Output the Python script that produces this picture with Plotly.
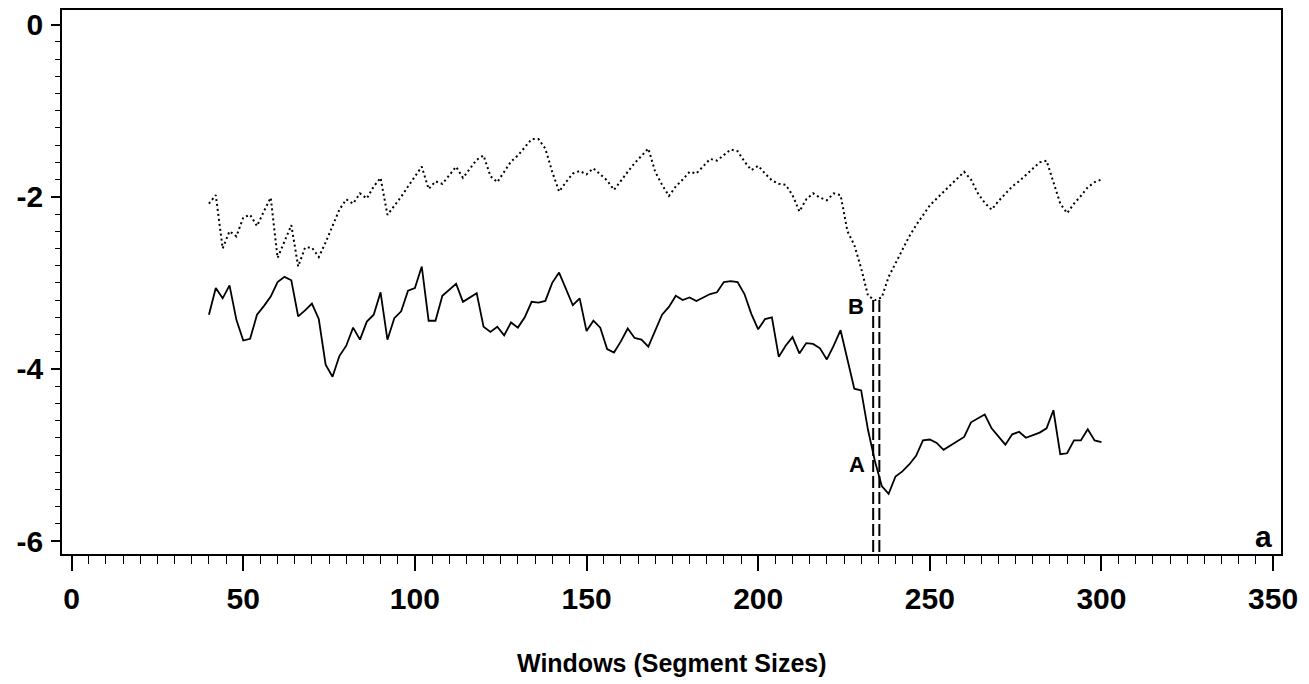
import plotly.graph_objects as go

# window sizes (segment sizes)
windows = list(range(40, 301, 2))

# solid series (A)
series_a = [
    -3.37, -3.06, -3.18, -3.03, -3.43, -3.67, -3.65, -3.37, -3.27, -3.16,   # 40-58
    -2.99, -2.93, -2.97, -3.39, -3.32, -3.24, -3.42, -3.95, -4.09, -3.85,   # 60-78
    -3.73, -3.52, -3.66, -3.45, -3.37, -3.11, -3.66, -3.41, -3.33, -3.09,   # 80-98
    -3.06, -2.81, -3.44, -3.44, -3.15, -3.08, -3.01, -3.22, -3.17, -3.12,   # 100-118
    -3.51, -3.57, -3.51, -3.61, -3.46, -3.52, -3.40, -3.22, -3.23, -3.21,   # 120-138
    -3.00, -2.88, -3.07, -3.26, -3.18, -3.56, -3.44, -3.52, -3.77, -3.81,   # 140-158
    -3.68, -3.53, -3.64, -3.66, -3.74, -3.56, -3.37, -3.28, -3.15, -3.20,   # 160-178
    -3.17, -3.21, -3.17, -3.13, -3.11, -2.99, -2.98, -2.99, -3.13, -3.36,   # 180-198
    -3.54, -3.42, -3.40, -3.86, -3.73, -3.63, -3.82, -3.70, -3.71, -3.76,   # 200-218
    -3.89, -3.73, -3.55, -3.88, -4.23, -4.25, -4.71, -5.07, -5.36, -5.45,   # 220-238
    -5.25, -5.19, -5.11, -5.01, -4.83, -4.82, -4.86, -4.94, -4.89, -4.84,   # 240-258
    -4.79, -4.62, -4.57, -4.53, -4.69, -4.79, -4.88, -4.76, -4.73, -4.80,   # 260-278
    -4.77, -4.74, -4.69, -4.48, -4.99, -4.98, -4.83, -4.83, -4.70, -4.83,   # 280-298
    -4.85,                                                                  # 300
]

# dotted series (B)
series_b = [
    -2.08, -1.98, -2.60, -2.40, -2.46, -2.24, -2.21, -2.34, -2.17, -2.01,   # 40-58
    -2.71, -2.52, -2.33, -2.81, -2.59, -2.59, -2.70, -2.53, -2.34, -2.15,   # 60-78
    -2.03, -2.08, -1.96, -2.02, -1.88, -1.78, -2.21, -2.11, -2.00, -1.88,   # 80-98
    -1.76, -1.65, -1.91, -1.82, -1.85, -1.75, -1.65, -1.78, -1.67, -1.57,   # 100-118
    -1.52, -1.76, -1.83, -1.71, -1.59, -1.52, -1.42, -1.33, -1.33, -1.44,   # 120-138
    -1.71, -1.94, -1.83, -1.73, -1.70, -1.74, -1.67, -1.74, -1.81, -1.92,   # 140-158
    -1.81, -1.71, -1.61, -1.52, -1.44, -1.71, -1.86, -1.99, -1.88, -1.80,   # 160-178
    -1.71, -1.73, -1.65, -1.56, -1.58, -1.51, -1.45, -1.47, -1.59, -1.69,   # 180-198
    -1.64, -1.73, -1.81, -1.85, -1.86, -1.98, -2.17, -2.03, -1.96, -2.01,   # 200-218
    -2.04, -1.96, -1.98, -2.40, -2.56, -2.83, -3.15, -3.20, -3.17, -2.93,   # 220-238
    -2.77, -2.61, -2.46, -2.33, -2.21, -2.10, -2.02, -1.94, -1.86, -1.78,   # 240-258
    -1.71, -1.80, -1.96, -2.07, -2.15, -2.05, -1.96, -1.88, -1.82, -1.75,   # 260-278
    -1.67, -1.60, -1.58, -1.83, -2.08, -2.19, -2.08, -1.99, -1.89, -1.83,   # 280-298
    -1.80,                                                                  # 300
]

# vertical dashed markers (x position, top value)
marker_x = [233.5, 235.3]
marker_top = [-3.20, -3.20]

x_ticks = [0, 50, 100, 150, 200, 250, 300, 350]
y_ticks = [0, -2, -4, -6]

x_range = [-2.8, 352.3]
y_range = [-6.15, 0.17]

fig = go.Figure()

fig.add_trace(go.Scatter(x=windows, y=series_b, mode="lines",
                         line=dict(color="black", width=2, dash="2px,3px"),
                         showlegend=False, hoverinfo="skip"))
fig.add_trace(go.Scatter(x=windows, y=series_a, mode="lines",
                         line=dict(color="black", width=1.8),
                         showlegend=False, hoverinfo="skip"))
for xv, yt in zip(marker_x, marker_top):
    fig.add_trace(go.Scatter(x=[xv, xv], y=[yt, y_range[0]], mode="lines",
                             line=dict(color="black", width=2, dash="12px,4px"),
                             showlegend=False, hoverinfo="skip", cliponaxis=False))

font_family = "Liberation Sans, Arial, sans-serif"

fig.add_annotation(x=231.3, y=-3.27, text="<b>B</b>", showarrow=False,
                   xanchor="right", yanchor="middle",
                   font=dict(family=font_family, size=22, color="black"))
fig.add_annotation(x=231.8, y=-5.11, text="<b>A</b>", showarrow=False,
                   xanchor="right", yanchor="middle",
                   font=dict(family=font_family, size=22, color="black"))
fig.add_annotation(x=350.2, y=-5.95, text="<b>a</b>", showarrow=False,
                   xanchor="right", yanchor="middle",
                   font=dict(family=font_family, size=30, color="black"))
fig.add_annotation(x=0.5, y=-0.2, xref="paper", yref="paper",
                   text="<b>Windows (Segment Sizes)</b>", showarrow=False,
                   xanchor="center", yanchor="middle",
                   font=dict(family=font_family, size=25, color="black"))

fig.update_xaxes(range=x_range, tickvals=x_ticks, ticktext=[f"<b>{v}</b>" for v in x_ticks],
                 ticks="outside", ticklen=15, tickwidth=1.6, tickcolor="black",
                 showline=True, linecolor="black", linewidth=1.8, mirror=True,
                 showgrid=False, zeroline=False, ticklabelstandoff=2,
                 tickfont=dict(family=font_family, size=30, color="black"),
                 minor=dict(dtick=5, tick0=0, ticks="outside", ticklen=8,
                            tickwidth=1.4, tickcolor="black", showgrid=False))
fig.update_yaxes(range=y_range, tickvals=y_ticks, ticktext=[f"<b>{v}</b>" for v in y_ticks],
                 ticks="outside", ticklen=9, tickwidth=1.6, tickcolor="black",
                 showline=True, linecolor="black", linewidth=1.8, mirror=True,
                 showgrid=False, zeroline=False, ticklabelstandoff=2,
                 tickfont=dict(family=font_family, size=30, color="black"),
                 minor=dict(dtick=0.2, tick0=0, ticks="outside", ticklen=5,
                            tickwidth=1.4, tickcolor="black", showgrid=False))

fig.update_layout(width=1309, height=684,
                  margin=dict(l=62, r=28, t=8, b=130),
                  paper_bgcolor="white", plot_bgcolor="white")

fig.write_html("out.html")
